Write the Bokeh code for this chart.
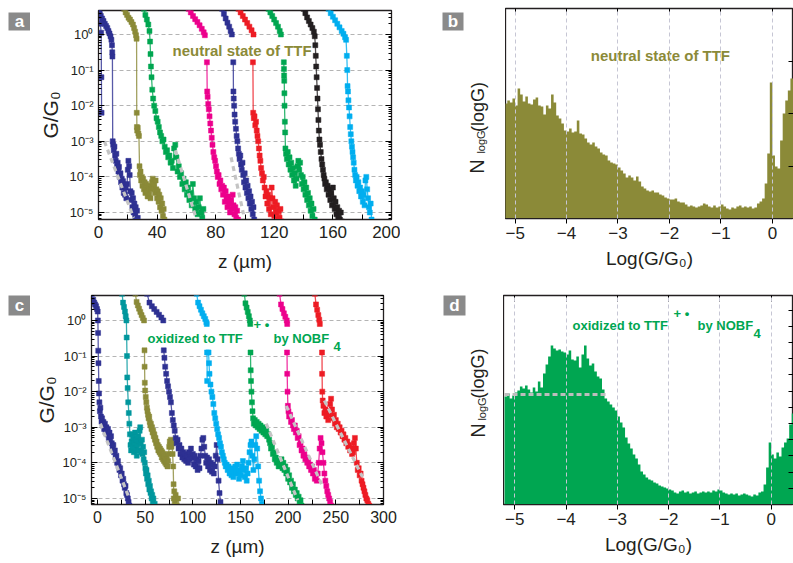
import math
from bokeh.plotting import figure
from bokeh.models import (Range1d, FixedTicker, LogAxis, LinearAxis, Label,
                          CustomJSTickFormatter)
from bokeh.layouts import column, row
from bokeh.embed import file_html
from bokeh.resources import INLINE

NA = float("nan")
FONT = "Liberation Sans"
INK = "#231f20"

NAVY = "#2e3192"
OLIVE = "#8b8a38"
GREEN = "#00a651"
MAGENTA = "#ec008c"
RED = "#ed1c24"
BLACK = "#231f20"
CYAN = "#00aeef"
TEAL = "#00979d"
FIT = "#c4c4c4"
TAG = "#8a8a8a"

# ---------------- panel a: conductance traces (z in um, log10 G/G0) -------------
a_navy_1 = [(0.0,0.72),(0.8,0.60),(1.6,0.52),(2.5,0.45),(3.4,0.38),(4.3,0.30),(5.2,0.24),(6.0,0.18),
            (6.8,0.10),(7.5,0.03),(8.2,-0.05),(8.8,-0.15),(9.2,-0.30),(9.4,-0.50),(9.5,-0.62),(9.7,-3.00),
            (10.0,-3.10),(10.4,-3.25),(10.9,-3.15),(11.3,-3.40),(11.8,-3.55),(12.2,-3.35),(12.7,-3.70),
            (13.1,-3.60),(13.6,-3.85),(14.0,-3.72),(14.5,-4.00),(15.0,-3.90),(15.4,-4.15),(15.9,-4.05),
            (16.3,-4.30),(16.8,-4.12),(17.2,-4.45),(17.7,-4.25),(18.1,-4.50),(18.6,-4.30),(19.0,-4.60),
            (19.5,-4.20),(20.0,-3.80),(20.4,-3.55),(20.9,-3.70),(21.3,-3.95),(21.8,-4.40),(22.2,-4.65),
            (22.7,-4.45),(23.1,-4.85),(23.6,-4.60),(24.0,-5.00),(24.5,-4.75),(25.0,-5.10),(25.4,-4.85),
            (25.9,-5.20),(26.3,-4.95),(26.8,-5.15),(27.2,-5.30)]
a_navy_2 = [(0.3,0.85),(0.8,0.55),(1.3,0.30),(1.8,0.05),(2.0,-1.20),(2.1,-2.20)]
a_olive = [(17.5,0.72),(18.5,0.62),(19.5,0.55),(20.5,0.47),(21.5,0.42),(22.5,0.35),(23.5,0.28),(24.3,0.18),
           (25.0,0.08),(25.6,-0.02),(26.0,-0.12),(26.1,-2.20),(26.2,-2.60),(26.4,-2.70),(26.8,-2.62),
           (27.2,-2.78),(27.6,-2.85),(28.0,-3.70),(28.3,-3.95),(28.7,-3.85),(29.1,-4.10),(29.6,-4.00),
           (30.0,-4.25),(30.5,-4.05),(31.0,-4.35),(31.5,-4.15),(32.0,-4.45),(32.5,-4.20),(33.0,-4.40),
           (33.5,-4.55),(34.0,-4.30),(34.5,-4.50),(35.0,-4.25),(35.5,-4.60),(36.0,-4.35),(36.5,-4.15),
           (37.0,-4.05),(37.5,-4.30),(38.0,-4.20),(38.5,-4.45),(39.0,-4.10),(39.5,-4.35),(40.0,-4.60),
           (40.5,-4.40),(41.0,-4.70),(41.5,-4.50),(42.0,-4.85),(42.5,-4.60),(43.0,-4.95),(43.5,-4.75),
           (44.0,-5.10),(44.5,-4.90),(45.0,-5.20),(45.5,-5.30)]
a_green_1 = [(31.0,0.72),(32.0,0.55),(33.0,0.42),(34.0,0.28),(34.8,0.10),(35.2,-0.20),(35.5,-0.55),
             (35.8,-0.90),(36.2,-1.20),(36.7,-1.55),(37.3,-1.80),(38.0,-2.00),(38.8,-2.15),(39.6,-2.35),
             (40.4,-2.45),(41.2,-2.60),(42.0,-2.75),(42.8,-2.85),(43.6,-3.00),(44.4,-2.95),(45.2,-3.15),
             (46.0,-3.30),(46.8,-3.25),(47.6,-3.45),(48.4,-3.40),(49.2,-3.60),(50.0,-3.55),(50.8,-3.75),
             (51.6,-3.20),(52.4,-3.10),(53.2,-3.45),(54.0,-3.85),(54.8,-3.70),(55.6,-4.00),(56.4,-3.90),
             (57.2,-4.20),(58.0,-4.05),(58.8,-4.35),(59.6,-4.15),(60.4,-4.50),(61.2,-4.30),(62.0,-4.65),
             (62.8,-4.45),(63.6,-4.80),(64.4,-4.20),(65.2,-4.60),(66.0,-4.90),(66.8,-4.70),(67.6,-5.05),
             (68.4,-4.85),(69.2,-4.60),(70.0,-5.00),(70.8,-5.15),(71.6,-4.90),(72.4,-5.30)]
a_magenta = [(61.5,0.72),(63.0,0.62),(64.5,0.52),(66.0,0.43),(67.5,0.35),(69.0,0.26),(70.5,0.16),
             (71.8,0.06),(72.6,-0.02),(NA,NA),(74.0,-0.78),(74.2,-1.60),(74.5,-1.75),(74.9,-1.95),
             (75.3,-2.10),(75.8,-2.30),(76.3,-2.50),(76.8,-2.70),(77.3,-2.90),(77.8,-3.10),(78.4,-3.30),
             (79.0,-3.45),(79.6,-3.55),(80.2,-3.70),(80.8,-3.85),(81.4,-4.00),(82.0,-3.95),(82.6,-4.20),
             (83.2,-4.10),(83.8,-4.35),(84.4,-4.25),(85.0,-4.50),(85.6,-4.30),(86.2,-4.70),(86.8,-4.40),
             (87.4,-4.60),(88.0,-4.85),(88.6,-4.55),(89.2,-4.75),(89.8,-5.00),(90.4,-4.65),(91.0,-4.90),
             (91.6,-4.50),(92.2,-4.80),(92.8,-5.05),(93.4,-4.85),(94.0,-5.15),(94.6,-4.95),(95.2,-5.20),
             (95.8,-5.30)]
a_navy_3 = [(84.4,0.72),(85.6,0.58),(86.8,0.45),(88.0,0.33),(89.2,0.22),(90.2,0.10),(91.0,0.0),(NA,NA),
            (92.0,-0.78),(92.1,-1.60),(92.3,-1.80),(92.6,-2.00),(92.9,-2.25),(93.3,-2.45),(93.8,-2.65),
            (94.3,-2.85),(94.8,-3.00),(95.3,-3.20),(95.8,-3.35),(96.3,-3.50),(96.8,-3.40),(97.3,-3.65),
            (97.8,-3.80),(98.3,-3.60),(98.8,-3.95),(99.3,-4.15),(99.8,-3.90),(100.3,-4.30),(100.8,-4.10),
            (101.3,-4.45),(101.8,-4.25),(102.3,-4.60),(102.8,-4.40),(103.3,-4.75),(103.8,-4.55),
            (104.3,-4.90),(104.8,-4.70),(105.3,-5.05),(105.8,-4.85),(106.3,-5.20)]
a_red = [(95.5,0.72),(97.0,0.62),(98.5,0.52),(100.0,0.42),(101.5,0.32),(103.0,0.22),(104.5,0.12),
         (105.8,0.0),(NA,NA),(105.4,-0.78),(105.6,-2.20),(106.0,-2.35),(106.5,-2.30),(107.0,-2.55),
         (107.5,-2.45),(108.0,-2.70),(108.5,-2.85),(109.0,-3.00),(109.5,-3.20),(110.0,-3.40),(110.5,-3.55),
         (111.0,-3.75),(111.6,-3.90),(112.2,-4.10),(112.8,-4.00),(113.4,-4.30),(114.0,-4.55),(114.6,-4.40),
         (115.2,-4.75),(115.8,-4.50),(116.4,-4.90),(117.0,-4.60),(117.6,-5.05),(118.2,-4.30),(118.8,-4.60),
         (119.4,-4.85),(120.0,-5.10),(120.6,-4.70),(121.2,-5.00),(121.8,-4.80),(122.4,-5.20),(123.0,-4.95),
         (123.6,-5.15),(124.2,-4.90),(124.8,-5.25),(125.4,-5.30)]
a_green_2 = [(116.0,0.72),(117.3,0.62),(118.6,0.52),(119.9,0.42),(121.2,0.32),(122.5,0.22),(123.7,0.10),
             (124.5,0.0),(NA,NA),(126.5,-0.78),(126.6,-0.97),(126.7,-1.15),(126.8,-1.30),(126.9,-1.65),
             (127.0,-2.00),(127.2,-2.45),(127.4,-2.75),(127.6,-3.20),(128.0,-3.35),(128.6,-3.50),(129.2,-3.30),
             (129.8,-3.65),(130.4,-3.45),(131.0,-3.80),(131.6,-3.60),(132.2,-3.95),(132.8,-3.75),(133.4,-4.10),
             (134.0,-3.90),(134.6,-4.25),(135.2,-4.05),(135.8,-3.70),(136.4,-3.55),(137.0,-3.80),(137.6,-3.60),
             (138.2,-3.95),(138.8,-4.20),(139.4,-4.00),(140.0,-4.35),(140.6,-4.15),(141.2,-4.50),(141.8,-4.30),
             (142.4,-4.65),(143.0,-4.45),(143.6,-4.80),(144.2,-4.60),(144.8,-4.95),(145.4,-4.75),(146.0,-5.10),
             (146.8,-4.90),(147.6,-5.20),(148.4,-5.30)]
a_black = [(140.0,0.72),(141.2,0.60),(142.4,0.48),(143.6,0.38),(144.8,0.28),(146.0,0.18),(147.0,0.08),
           (147.6,-0.05),(148.0,-0.30),(148.3,-0.60),(148.6,-0.90),(148.9,-1.20),(149.2,-1.50),(149.5,-1.80),
           (149.8,-2.10),(150.1,-2.40),(150.4,-2.70),(150.8,-2.95),(151.2,-3.10),(151.7,-3.30),(152.2,-3.50),
           (152.7,-3.65),(153.2,-3.80),(153.7,-3.95),(154.2,-4.05),(154.7,-4.20),(155.2,-4.15),(155.8,-4.35),
           (156.4,-4.25),(157.0,-4.50),(157.6,-4.35),(158.2,-4.65),(158.8,-4.45),(159.4,-4.80),(160.0,-4.30),
           (160.6,-4.60),(161.2,-4.90),(161.8,-4.70),(162.4,-5.05),(163.0,-4.85),(163.6,-5.15),(164.2,-4.95),
           (164.8,-5.20),(165.4,-5.00),(166.0,-5.25),(166.6,-5.30)]
a_cyan = [(157.0,0.72),(158.5,0.60),(160.0,0.50),(161.5,0.40),(163.0,0.30),(164.5,0.20),(166.0,0.10),
          (167.2,0.02),(168.3,-0.08),(169.0,-0.15),(169.5,-0.60),(169.8,-1.00),(170.0,-1.45),(170.3,-1.60),
          (170.6,-1.85),(171.0,-2.05),(171.4,-2.30),(171.8,-2.60),(172.2,-2.80),(172.6,-3.00),(173.0,-3.15),
          (173.4,-3.30),(173.8,-3.45),(174.2,-3.60),(174.7,-3.80),(175.2,-3.95),(175.7,-4.10),(176.2,-4.00),
          (176.8,-4.25),(177.4,-4.15),(178.0,-4.40),(178.6,-4.30),(179.2,-4.55),(179.8,-4.40),(180.4,-4.70),
          (181.0,-4.50),(181.6,-4.80),(182.2,-4.10),(182.8,-4.00),(183.4,-4.35),(184.0,-4.60),(184.6,-4.85),
          (185.2,-5.00),(185.8,-4.75),(186.4,-5.20),(187.0,-5.30)]
a_traces = [(a_navy_2, NAVY), (a_navy_1, NAVY), (a_olive, OLIVE), (a_green_1, GREEN), (a_magenta, MAGENTA),
            (a_navy_3, NAVY), (a_red, RED), (a_green_2, GREEN), (a_black, BLACK), (a_cyan, CYAN)]
a_fits = [((4.0, -3.0), (24.0, -5.15)), ((52.5, -3.25), (66.5, -5.15)), ((90.5, -3.45), (99.0, -5.05))]

# ---------------- panel c: conductance traces after oxidation -------------------
c_navy_1 = [(-5.5,0.75),(-4.5,0.58),(-3.5,0.50),(-2.5,0.45),(-1.5,0.40),(-0.5,0.32),(0.2,0.25),(0.4,0.0),
            (0.6,-0.35),(0.8,-0.85),(1.0,-1.20),(1.3,-1.70),(1.6,-2.05),(2.0,-2.30),(2.5,-2.55),(3.0,-2.45),
            (3.6,-2.70),(4.2,-2.85),(4.8,-2.75),(5.5,-2.95),(6.2,-2.85),(7.0,-3.05),(7.8,-2.90),(8.6,-3.15),
            (9.4,-3.00),(10.2,-3.20),(11.0,-3.05),(11.8,-3.30),(12.6,-3.15),(13.4,-3.35),(14.2,-3.25),
            (15.0,-3.45),(15.8,-3.55),(16.6,-3.50),(17.4,-3.70),(18.2,-3.65),(19.0,-3.85),(19.8,-3.80),
            (20.6,-4.00),(21.4,-3.95),(22.2,-4.10),(23.0,-4.20),(23.8,-4.15),(24.6,-4.35),(25.4,-4.30),
            (26.2,-4.50),(27.0,-4.45),(27.8,-4.60),(28.6,-4.70),(29.4,-4.65),(30.2,-4.85),(31.0,-4.90),
            (31.8,-5.00),(32.6,-5.10),(33.4,-5.20),(34.2,-5.30)]
c_teal = [(25.8,0.75),(26.8,0.50),(27.8,0.38),(28.8,0.25),(29.6,0.12),(30.3,0.0),(30.6,-0.48),(30.9,-1.0),
          (31.2,-1.6),(31.6,-1.9),(32.2,-2.3),(32.8,-2.6),(33.4,-2.9),(34.0,-3.2),(34.6,-3.5),(35.2,-3.65),
          (35.8,-3.4),(36.4,-3.2),(37.0,-3.55),(37.6,-3.3),(38.2,-3.7),(38.8,-3.45),(39.4,-3.15),(40.0,-3.6),
          (40.6,-3.35),(41.2,-3.8),(41.8,-3.5),(42.4,-3.25),(43.0,-3.65),(43.6,-3.4),(44.2,-3.1),(44.8,-3.0),
          (45.4,-3.45),(46.0,-3.7),(46.6,-3.35),(47.2,-3.75),(47.8,-3.55),(48.4,-3.9),(49.0,-3.7),(49.6,-4.0),
          (50.2,-4.15),(50.8,-4.3),(51.4,-4.2),(52.0,-4.45),(52.6,-4.35),(53.2,-4.6),(53.8,-4.5),(54.4,-4.75),
          (55.0,-4.65),(55.6,-4.85),(56.2,-4.8),(56.8,-5.0),(57.4,-4.9),(58.0,-5.1),(58.6,-5.0),(59.2,-5.2),
          (60.0,-5.15),(61.0,-5.3)]
c_olive = [(39.7,0.75),(41.0,0.52),(42.3,0.42),(43.6,0.33),(44.9,0.24),(46.2,0.15),(47.5,0.07),(48.8,0.0),
           (NA,NA),(49.3,-0.84),(49.4,-1.3),(49.6,-1.75),(50.0,-1.97),(50.6,-2.15),(51.2,-2.3),(51.8,-2.45),
           (52.4,-2.55),(53.0,-2.65),(53.6,-2.75),(54.2,-2.7),(54.8,-2.85),(55.4,-2.95),(56.0,-2.9),
           (56.6,-3.05),(57.2,-3.0),(57.8,-3.15),(58.4,-3.1),(59.0,-3.25),(59.6,-3.2),(60.2,-3.35),(60.8,-3.3),
           (61.4,-3.45),(62.0,-3.4),(62.6,-3.55),(63.2,-3.5),(63.8,-3.65),(64.4,-3.55),(65.0,-3.7),(65.6,-3.6),
           (66.2,-3.75),(66.8,-3.65),(67.4,-3.85),(68.0,-3.7),(68.6,-3.9),(69.2,-3.75),(69.8,-3.95),(70.4,-3.8),
           (71.0,-4.0),(71.6,-3.85),(72.2,-4.05),(72.8,-3.9),(73.4,-4.1),(74.0,-3.95),(74.6,-3.75),(75.2,-3.55),
           (75.8,-3.4),(76.4,-3.5),(77.0,-3.35),(77.6,-3.55),(78.2,-3.45),(78.8,-3.75),(79.4,-4.1),(79.8,-4.6),
           (80.0,-5.0),(80.5,-4.8),(81.0,-5.1),(82.0,-4.9),(83.0,-5.2),(84.5,-5.0),(86.0,-5.3)]
c_navy_2 = [(52.0,0.75),(54.5,0.5),(57.0,0.4),(59.5,0.32),(62.0,0.24),(64.5,0.16),(67.0,0.08),(69.0,0.0),
            (NA,NA),(69.5,-0.84),(70.2,-1.05),(71.0,-1.3),(72.0,-1.5),(73.0,-1.7),(74.0,-1.85),(75.0,-2.0),
            (76.0,-2.15),(77.0,-2.3),(78.0,-2.6),(79.0,-2.8),(80.0,-2.95),(81.0,-3.1),(82.0,-3.3),(83.0,-3.45),
            (84.0,-3.35),(85.0,-3.6),(86.0,-3.5),(87.0,-3.75),(88.0,-3.6),(89.0,-3.85),(90.0,-3.7),(91.0,-3.9),
            (92.0,-3.75),(93.0,-3.95),(94.0,-3.8),(95.0,-4.0),(96.0,-3.7),(97.0,-3.9),(98.0,-3.6),(99.0,-3.85),
            (100.0,-3.75),(101.0,-4.05),(102.0,-3.8),(103.0,-4.1),(104.0,-3.9),(105.0,-4.2),(106.0,-3.95),
            (107.0,-4.15),(108.0,-3.8),(109.0,-3.6),(110.0,-3.35),(111.0,-3.3),(112.0,-3.55),(113.0,-3.8),
            (114.0,-4.0),(115.0,-3.85),(116.0,-4.1),(117.0,-3.9),(118.0,-4.2),(119.0,-4.0),(120.0,-4.25),
            (121.0,-4.05),(122.0,-4.3),(123.0,-4.1),(124.0,-3.8),(125.0,-3.5),(126.0,-3.9),(127.0,-4.5),
            (128.0,-4.85),(129.0,-5.1),(130.0,-5.3)]
c_cyan = [(104.0,0.75),(105.5,0.5),(107.0,0.4),(108.5,0.3),(110.0,0.2),(111.5,0.12),(113.0,0.04),
          (114.2,-0.05),(114.6,-0.1),(NA,NA),(114.9,-0.9),(115.0,-1.7),(NA,NA),(116.5,-0.9),(117.0,-1.2),
          (117.5,-1.5),(118.5,-1.8),(119.5,-2.0),(120.5,-2.15),(121.5,-2.35),(122.5,-2.6),(123.5,-2.75),
          (124.5,-2.9),(125.5,-3.05),(126.5,-3.2),(127.5,-3.3),(128.5,-3.45),(129.5,-3.55),(130.5,-3.7),
          (131.5,-3.8),(132.5,-3.9),(133.5,-4.0),(134.5,-4.1),(135.5,-4.05),(136.5,-4.2),(137.5,-4.1),
          (138.5,-4.3),(139.5,-4.15),(140.5,-4.35),(141.5,-4.2),(142.5,-4.4),(143.5,-4.25),(144.5,-4.1),
          (145.5,-4.3),(146.5,-4.05),(147.5,-4.25),(148.5,-4.45),(149.5,-4.2),(150.5,-4.35),(151.5,-4.1),
          (152.5,-3.95),(153.5,-4.2),(154.5,-4.4),(155.5,-4.15),(156.5,-4.5),(157.5,-4.3),(158.5,-4.0),
          (159.5,-3.7),(160.5,-3.5),(161.5,-3.4),(162.5,-3.8),(163.5,-4.2),(164.5,-3.9),(165.5,-3.5),
          (166.5,-3.25),(167.5,-3.6),(168.5,-4.1),(169.5,-4.5),(170.5,-4.8),(171.5,-5.0),(172.5,-5.15),
          (173.5,-5.25),(174.5,-5.3)]
c_green = [(154.0,0.75),(155.2,0.48),(156.4,0.36),(157.6,0.24),(158.8,0.12),(159.8,0.0),(160.2,-0.1),(NA,NA),
           (160.5,-0.9),(160.7,-1.4),(161.0,-1.7),(161.5,-2.0),(162.0,-2.3),(162.6,-2.55),(163.2,-2.75),
           (164.0,-2.9),(165.0,-2.8),(166.0,-2.95),(167.0,-2.85),(168.0,-3.0),(169.0,-2.9),(170.0,-3.05),
           (171.0,-2.95),(172.0,-3.1),(173.0,-3.0),(174.0,-3.15),(175.0,-3.05),(176.0,-3.2),(177.0,-3.1),
           (178.0,-3.25),(179.0,-3.2),(180.0,-3.35),(181.0,-3.45),(182.0,-3.6),(183.0,-3.55),(184.0,-3.75),
           (185.0,-3.7),(186.0,-3.9),(187.0,-3.85),(188.0,-4.0),(189.0,-3.95),(190.0,-4.1),(191.0,-3.95),
           (192.0,-4.05),(193.0,-3.9),(194.0,-4.15),(195.0,-4.0),(196.0,-4.2),(197.0,-4.1),(198.0,-4.3),
           (199.0,-4.2),(200.0,-4.45),(201.0,-4.35),(202.0,-4.55),(203.0,-4.5),(204.0,-4.7),(205.0,-4.6),
           (206.0,-4.8),(207.0,-4.75),(208.0,-4.9),(209.0,-4.85),(210.0,-5.0),(211.0,-4.95),(212.0,-5.1),
           (213.0,-5.05),(214.0,-5.2),(215.0,-5.3)]
c_magenta = [(191.0,0.75),(192.5,0.45),(194.0,0.32),(195.5,0.2),(197.0,0.1),(198.5,0.0),(199.0,-0.1),(NA,NA),
             (198.8,-0.9),(199.0,-1.5),(199.3,-2.0),(199.7,-2.4),(200.3,-2.55),(201.0,-2.7),(202.0,-2.65),
             (203.0,-2.85),(204.0,-2.8),(205.0,-2.95),(206.0,-3.05),(207.0,-2.95),(208.0,-3.15),(209.0,-3.1),
             (210.0,-3.3),(211.0,-3.25),(212.0,-3.5),(213.0,-3.45),(214.0,-3.65),(215.0,-3.6),(216.0,-3.8),
             (217.0,-3.75),(218.0,-3.9),(219.0,-3.85),(220.0,-4.0),(221.0,-3.95),(222.0,-4.1),(223.0,-4.05),
             (224.0,-4.2),(225.0,-4.1),(226.0,-4.3),(227.0,-4.2),(228.0,-4.45),(229.0,-4.35),(230.0,-4.5),
             (231.0,-4.3),(232.0,-4.0),(233.0,-3.6),(234.0,-3.3),(235.0,-3.45),(236.0,-3.7),(237.0,-4.0),
             (238.0,-4.3),(239.0,-4.5),(240.0,-4.65),(241.0,-4.8),(242.0,-4.9),(243.0,-5.0),(244.0,-5.1),
             (245.0,-5.2),(246.0,-5.3)]
c_red = [(228.0,0.75),(229.2,0.45),(230.4,0.3),(231.6,0.15),(232.6,0.02),(233.2,-0.1),(NA,NA),(235.5,-0.9),
         (235.6,-1.5),(235.8,-2.0),(236.2,-2.25),(237.0,-2.4),(238.0,-2.6),(239.0,-2.5),(240.0,-2.7),
         (241.0,-2.55),(242.0,-2.8),(243.0,-2.65),(244.0,-2.35),(245.0,-2.2),(246.0,-2.5),(247.0,-2.75),
         (248.0,-2.65),(249.0,-2.9),(250.0,-2.8),(251.0,-3.0),(252.0,-2.9),(253.0,-3.05),(254.0,-3.0),
         (255.0,-3.15),(256.0,-3.1),(257.0,-3.25),(258.0,-3.2),(259.0,-3.35),(260.0,-3.3),(261.0,-3.45),
         (262.0,-3.4),(263.0,-3.55),(264.0,-3.5),(265.0,-3.65),(266.0,-3.6),(267.0,-3.75),(268.0,-3.7),
         (269.0,-3.45),(270.0,-3.3),(271.0,-3.6),(272.0,-4.0),(273.0,-4.2),(274.0,-4.15),(275.0,-4.35),
         (276.0,-4.3),(277.0,-4.5),(278.0,-4.6),(279.0,-4.7),(280.0,-4.8),(281.0,-4.9),(282.0,-5.0),
         (283.0,-5.05),(284.0,-5.15),(285.0,-5.2),(286.0,-5.25),(287.0,-5.3)]
c_traces = [(c_navy_1, NAVY), (c_teal, TEAL), (c_olive, OLIVE), (c_navy_2, NAVY), (c_cyan, CYAN),
            (c_green, GREEN), (c_magenta, MAGENTA), (c_red, RED)]
c_fits = [((3.0, -2.9), (32.7, -4.96)), ((177.0, -2.9), (210.0, -5.05)),
          ((198.0, -2.4), (235.0, -4.6)), ((238.0, -2.25), (278.0, -4.4))]

# ---------------- histograms (log10 G bins) ------------------------------------
BIN_START = -5.20
BIN_W = 0.05
b_counts = [115,118,116,120,113,130,124,117,122,115,
            114,119,121,113,112,104,113,110,124,116,
            103,100,95,88,87,90,86,87,98,85,
            84,80,76,74,76,72,70,66,64,63,
            58,56,55,54,51,48,45,41,43,41,
            38,42,37,32,30,28,27,28,26,26,
            24,23,21,20,19,19,20,17,16,16,
            14,12,13,12,11,12,13,15,14,12,
            11,13,11,12,14,12,10,9,11,10,
            12,13,11,12,11,12,10,11,15,17,
            20,35,65,136,63,52,50,78,105,118,
            128,140,142]
d_counts = [108,111,106,109,112,114,118,116,119,115,
            112,117,113,123,117,131,140,148,159,156,
            154,155,153,152,150,154,145,144,148,137,
            150,159,146,139,141,133,128,126,115,106,
            103,100,97,94,88,82,77,67,61,56,
            50,46,40,33,30,27,25,24,22,21,
            19,18,17,16,15,14,12,11,13,14,
            12,13,11,12,13,11,12,13,12,13,
            12,14,13,15,14,12,11,10,11,10,
            11,9,10,11,10,9,8,10,9,12,
            13,20,37,62,50,46,52,48,57,62,
            66,80,91]
d_plateau = (-5.2, -3.2, 110)

g_decades = [-5, -4, -3, -2, -1, 0]
hist_ticks = [-5, -4, -3, -2, -1, 0]
b_right_ticks = [52.5, 105, 157.5]
d_right_ticks = [16.2, 32.4, 48.6, 64.8, 81.0, 97.2, 113.4, 129.6, 145.8, 162.0, 178.2, 194.4]

SUP_JS = """
const sup = {"-": "\u207b", "0": "\u2070", "1": "\u00b9", "2": "\u00b2", "3": "\u00b3",
             "4": "\u2074", "5": "\u2075", "6": "\u2076"};
const e = Math.round(Math.log10(tick)).toString();
let s = "";
for (const c of e) { s += sup[c]; }
return "10" + s;
"""
EMPTY_JS = "return '';"


def style_common(p):
    p.background_fill_color = "white"
    p.border_fill_color = "white"
    p.outline_line_color = INK
    p.outline_line_width = 1.3
    p.outline_line_alpha = 1.0


def trace_panel(width, height, borders, x_range, log_range, x_major, x_minor, x_font,
                ylab_standoff, xlab_standoff):
    left, right, top, bottom = borders
    p = figure(width=width, height=height, output_backend="svg", toolbar_location=None,
               x_range=Range1d(*x_range), y_range=Range1d(10 ** log_range[0], 10 ** log_range[1]),
               y_axis_type="log", min_border_left=left, min_border_right=right,
               min_border_top=top, min_border_bottom=bottom, frame_align=False)
    style_common(p)
    majors = [10.0 ** e for e in g_decades]
    minors = [k * 10.0 ** e for e in range(-6, 1) for k in range(2, 10)]
    p.xgrid.visible = False
    p.ygrid.ticker = FixedTicker(ticks=majors)
    p.ygrid.grid_line_color = "#b4b4b4"
    p.ygrid.grid_line_dash = "4 3"
    p.ygrid.grid_line_width = 1

    yax = p.yaxis[0]
    yax.ticker = FixedTicker(ticks=majors, minor_ticks=minors)
    yax.formatter = CustomJSTickFormatter(code=SUP_JS)
    yax.major_tick_in = 6
    yax.major_tick_out = 0
    yax.minor_tick_in = 3
    yax.minor_tick_out = 0
    yax.major_label_standoff = 5
    yax.major_label_text_font = FONT
    yax.major_label_text_font_size = "13px"
    yax.major_label_text_color = INK
    yax.axis_label = "G/G\u2080"
    yax.axis_label_text_font = FONT
    yax.axis_label_text_font_style = "normal"
    yax.axis_label_text_font_size = "21px"
    yax.axis_label_text_color = INK
    yax.axis_label_standoff = ylab_standoff
    yax.axis_line_color = INK

    rax = LogAxis(ticker=FixedTicker(ticks=majors, minor_ticks=minors),
                  formatter=CustomJSTickFormatter(code=EMPTY_JS),
                  major_tick_in=6, major_tick_out=0, minor_tick_in=3, minor_tick_out=0,
                  major_label_standoff=0, major_label_text_font_size="0px", axis_line_color=INK)
    p.add_layout(rax, "right")

    xax = p.xaxis[0]
    xax.ticker = FixedTicker(ticks=x_major, minor_ticks=x_minor)
    xax.major_tick_in = 5
    xax.major_tick_out = 0
    xax.minor_tick_in = 5
    xax.minor_tick_out = 0
    xax.major_label_standoff = 6
    xax.major_label_text_font = FONT
    xax.major_label_text_font_size = x_font
    xax.major_label_text_color = INK
    xax.axis_label = "z (\u00b5m)"
    xax.axis_label_text_font = FONT
    xax.axis_label_text_font_style = "normal"
    xax.axis_label_text_font_size = "19px"
    xax.axis_label_text_color = INK
    xax.axis_label_standoff = xlab_standoff
    xax.axis_line_color = INK
    return p


def add_trace(p, pts, color):
    z = [q[0] for q in pts]
    g = [10.0 ** q[1] for q in pts]
    p.line(z, g, line_color=color, line_width=1.3, line_alpha=0.8)
    p.scatter(z, g, marker="square", size=5.0, fill_color=color, line_color=color, line_width=0.5)


def add_fit(p, seg):
    (z0, l0), (z1, l1) = seg
    p.line([z0, z1], [10.0 ** l0, 10.0 ** l1], line_color=FIT, line_width=3.2, line_dash="5 4")


def hist_panel(width, height, borders, x_range, y_top, counts, color, right_ticks):
    left, right, top, bottom = borders
    p = figure(width=width, height=height, output_backend="svg", toolbar_location=None,
               x_range=Range1d(*x_range), y_range=Range1d(0, y_top),
               min_border_left=left, min_border_right=right, min_border_top=top,
               min_border_bottom=bottom, frame_align=False)
    style_common(p)
    xs, ys = [BIN_START], [0]
    for i, c in enumerate(counts):
        l = BIN_START + BIN_W * i
        xs += [l, l + BIN_W]
        ys += [c, c]
    xs.append(BIN_START + BIN_W * len(counts))
    ys.append(0)
    p.patch(xs, ys, fill_color=color, line_color=None)

    p.ygrid.visible = False
    p.xgrid.ticker = FixedTicker(ticks=hist_ticks)
    p.xgrid.grid_line_color = "#c6c6d4"
    p.xgrid.grid_line_dash = "4 3"
    p.xgrid.grid_line_width = 1
    p.xgrid.level = "overlay"
    p.yaxis.visible = False

    xax = p.xaxis[0]
    xax.ticker = FixedTicker(ticks=hist_ticks, minor_ticks=[])
    xax.major_tick_in = 0
    xax.major_tick_out = 5
    xax.major_label_standoff = 3
    xax.major_label_text_font = FONT
    xax.major_label_text_font_size = "17px"
    xax.major_label_text_color = INK
    xax.axis_label = "Log(G/G\u2080)"
    xax.axis_label_text_font = FONT
    xax.axis_label_text_font_style = "normal"
    xax.axis_label_text_font_size = "19px"
    xax.axis_label_text_color = INK
    xax.axis_label_standoff = 6
    xax.axis_line_color = INK

    tax = LinearAxis(ticker=FixedTicker(ticks=hist_ticks, minor_ticks=[]),
                     formatter=CustomJSTickFormatter(code=EMPTY_JS),
                     major_tick_in=6, major_tick_out=0, minor_tick_in=0, minor_tick_out=0,
                     major_label_standoff=0, major_label_text_font_size="0px", axis_line_color=INK)
    p.add_layout(tax, "above")
    rax = LinearAxis(ticker=FixedTicker(ticks=right_ticks, minor_ticks=[]),
                     formatter=CustomJSTickFormatter(code=EMPTY_JS),
                     major_tick_in=5, major_tick_out=0, minor_tick_in=0, minor_tick_out=0,
                     major_label_standoff=0, major_label_text_font_size="0px", axis_line_color=INK)
    p.add_layout(rax, "right")
    return p


def side_fig(width, height):
    """Blank strip in pixel coordinates carrying panel letters and the rotated N label."""
    p = figure(width=width, height=height, output_backend="svg", toolbar_location=None,
               x_range=Range1d(0, width), y_range=Range1d(0, height),
               min_border_left=0, min_border_right=0, min_border_top=0, min_border_bottom=0,
               frame_align=False)
    p.axis.visible = False
    p.grid.visible = False
    p.outline_line_color = None
    p.background_fill_color = "white"
    p.border_fill_color = "white"
    return p


def letter(p, box, t):
    x0, x1, y0, y1 = box
    p.quad(left=[x0], right=[x1], bottom=[y0], top=[y1], fill_color=TAG, line_color=None)
    p.add_layout(Label(x=(x0 + x1) / 2, y=(y0 + y1) / 2, text=t, text_color="white", text_font=FONT,
                       text_font_style="bold", text_font_size="17px", text_align="center",
                       text_baseline="middle"))


def note(p, x, y, t, color, size, dx=0, dy=0, align="left"):
    p.add_layout(Label(x=x, y=y, x_offset=dx, y_offset=dy, text=t, text_color=color, text_font=FONT,
                       text_font_style="bold", text_font_size=size, text_align=align,
                       text_baseline="middle"))


def n_label(p, xn, yn, xs, ys, xp, yp):
    common = dict(angle=math.pi / 2, text_font=FONT, text_color=INK, text_align="center",
                  text_baseline="middle")
    p.add_layout(Label(x=xn, y=yn, text="N", text_font_size="20px", **common))
    p.add_layout(Label(x=xs, y=ys, text="logG", text_font_size="11px", **common))
    p.add_layout(Label(x=xp, y=yp, text="(logG)", text_font_size="18px", **common))


# ---------------- top row ----------------
la = side_fig(30, 288)
letter(la, (8, 30, 258, 276), "a")

pa = trace_panel(370, 288, (68, 9, 10, 69), (0, 200), (-5.197, 0.674),
                 [0, 40, 80, 120, 160, 200], [20, 60, 100, 140, 180], "17px", 4, 10)
for pts, col in a_traces:
    add_trace(pa, pts, col)
for seg in a_fits:
    add_fit(pa, seg)
note(pa, 98, 10 ** -0.45, "neutral state of TTF", OLIVE, "15px", align="center")

lb = side_fig(105, 288)
letter(lb, (42, 63, 258, 276), "b")
n_label(lb, 76, 122, 80, 146.5, 77, 181.5)

pb = hist_panel(288, 288, (0, 0, 8, 70), (-5.185, 0.41), 210, b_counts, OLIVE, b_right_ticks)
note(pb, -2.175, 163, "neutral state of TTF", OLIVE, "15px", align="center")

# ---------------- bottom row ----------------
lc = side_fig(30, 275)
letter(lc, (8, 30, 248, 268), "c")

pc = trace_panel(370, 275, (61, 17, 7, 59), (-6.3, 300), (-5.17, 0.70),
                 [0, 50, 100, 150, 200, 250, 300], [25, 75, 125, 175, 225, 275], "16px", 1, 10)
for pts, col in c_traces:
    add_trace(pc, pts, col)
for seg in c_fits:
    add_fit(pc, seg)
cx, cy = 52.4, 10 ** -0.506
note(pc, cx, cy, "oxidized to TTF", GREEN, "13px")
note(pc, cx, cy, "+ \u2022", GREEN, "13px", dx=106, dy=14)
note(pc, cx, cy, "by NOBF", GREEN, "13px", dx=126)
note(pc, cx, cy, "4", GREEN, "13px", dx=186, dy=-8)

ld = side_fig(103, 275)
letter(ld, (43, 65, 248, 268), "d")
n_label(ld, 77, 133, 81, 154.5, 77, 190)

pd = hist_panel(290, 275, (0, 0, 7, 59), (-5.22, 0.434), 209, d_counts, GREEN, d_right_ticks)
x0, x1, h = d_plateau
pd.line([x0, x1], [h, h], line_color="#bdbdbd", line_width=3, line_dash="5 3")
dx0, dy0 = -3.873, 179
note(pd, dx0, dy0, "oxidized to TTF", GREEN, "13px")
note(pd, dx0, dy0, "+ \u2022", GREEN, "13px", dx=101, dy=12)
note(pd, dx0, dy0, "by NOBF", GREEN, "13px", dx=125)
note(pd, dx0, dy0, "4", GREEN, "13px", dx=181, dy=-8)

layout = column(row(la, pa, lb, pb), row(lc, pc, ld, pd))
open("out.html", "w", encoding="utf-8").write(file_html(layout, INLINE, title="TTF conductance"))
